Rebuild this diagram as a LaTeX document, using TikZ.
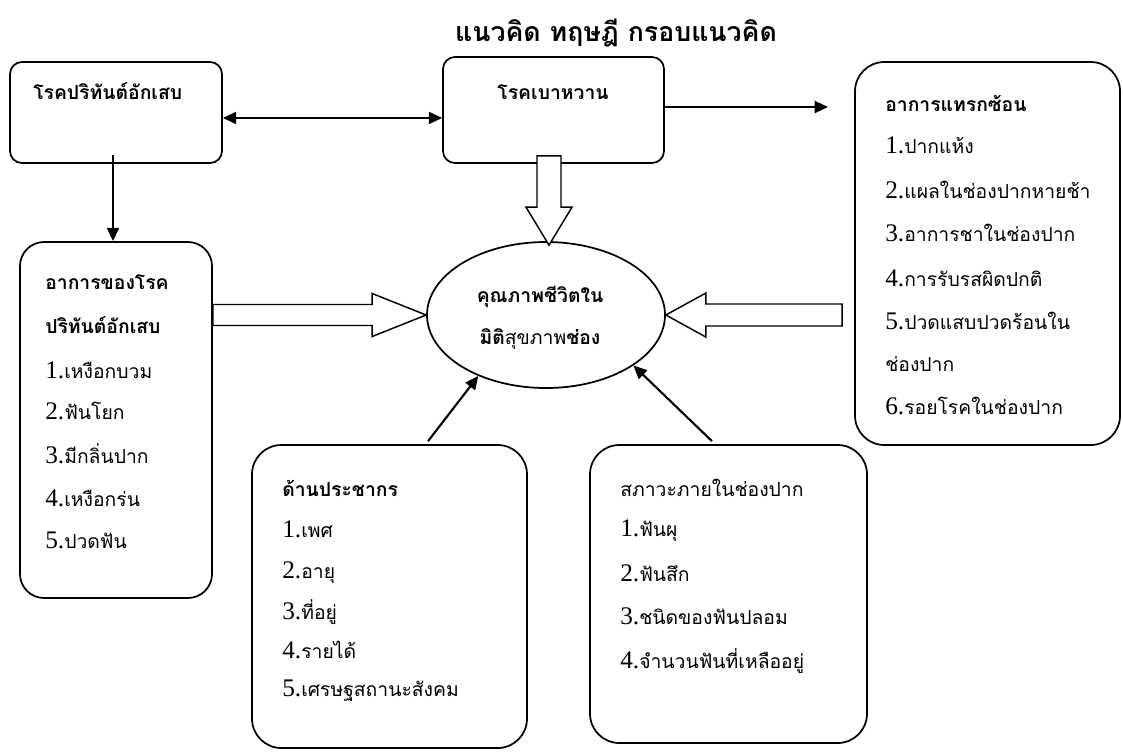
\documentclass[tikz,border=0pt]{standalone}
\usepackage{fontspec}
\setmainfont{Liberation Serif}
\newfontfamily\thaifont[Script=Thai]{Loma}
\usetikzlibrary{shapes.geometric,arrows.meta,calc}
\newcommand\dg[1]{{\fontsize{19}{22}\selectfont\rmfamily #1}}
\begin{document}
\begin{tikzpicture}[x=0.75pt,y=-0.75pt,
  box/.style={draw,line width=1.3pt,inner sep=0pt},
  txt/.style={anchor=base west,inner sep=0pt,font=\fontsize{14.5}{17}\selectfont\thaifont},
  hd/.style={anchor=base west,inner sep=0pt,font=\fontsize{14.5}{17}\selectfont\thaifont\bfseries},
  arr/.style={line width=1.6pt,-{Triangle[length=10pt,width=9pt]}},
  darr/.style={line width=1.6pt,{Triangle[length=10pt,width=9pt]}-{Triangle[length=10pt,width=9pt]}},
  hollow/.style={draw,line width=1.1pt,fill=white,line join=miter}]
\useasboundingbox (0,0) rectangle (1123,751);

% title
\node[anchor=base,inner sep=0pt,font=\fontsize{20}{24}\selectfont\thaifont\bfseries] (title) at (616,41) {แนวคิด ทฤษฎี กรอบแนวคิด};

% boxes
\node[box,rounded corners=9pt,minimum width=159pt,minimum height=75.75pt] (n1) at (116,112.5) {};
\node[box,rounded corners=9pt,minimum width=165.75pt,minimum height=79.5pt] (n2) at (553.5,110) {};
\node[box,rounded corners=22pt,minimum width=198.75pt,minimum height=287.25pt] (nR) at (987.5,253.5) {};
\node[box,rounded corners=18pt,minimum width=144pt,minimum height=267pt] (nL) at (116,420) {};
\node[box,rounded corners=22pt,minimum width=206.25pt,minimum height=227.25pt] (nB1) at (389.5,596.5) {};
\node[box,rounded corners=22pt,minimum width=207.75pt,minimum height=223.5pt] (nB2) at (728.5,594) {};
\node[box,ellipse,minimum width=178.5pt,minimum height=109.5pt] (E) at (546,315) {};

% solid connectors
\coordinate (dl) at ([yshift=-4.1pt]n1.east);
\draw[darr] (dl) -- (dl -| n2.west);
\coordinate (rS0) at ([yshift=2.25pt]n2.east);
\coordinate (rEnd) at (828,107);
\draw[arr] (rS0) -- (rEnd);
\coordinate (dS) at ([xshift=-2.25pt,yshift=6.75pt]n1.south);
\draw[arr] (dS) -- (dS |- nL.north);
\draw[arr] ([xshift=28.9pt,yshift=2.25pt]nB1.north) -- (E.-138.5);
\draw[arr] ([xshift=-12.4pt,yshift=2.25pt]nB2.north) -- (E.-30.6);

% hollow arrows
\coordinate (hS) at ($(n2.south)+(-4.5,-8)$);
\coordinate (hT) at ($(E.north)+(3,4)$);
\draw[hollow] ($(hS)+(-12,0)$) -- ($(hT)+(-12,-38)$) -- ($(hT)+(-23,-38)$) -- (hT)
  -- ($(hT)+(23,-38)$) -- ($(hT)+(12,-38)$) -- ($(hS)+(12,0)$) -- cycle;
\coordinate (lS) at (nL.east |- E.west);
\coordinate (lT) at (E.west);
\draw[hollow] ($(lS)+(0,-10.5)$) -- ($(lT)+(-54,-10.5)$) -- ($(lT)+(-54,-21.5)$) -- (lT)
  -- ($(lT)+(-54,21.5)$) -- ($(lT)+(-54,10.5)$) -- ($(lS)+(0,10.5)$) -- cycle;
\coordinate (rS) at ($(nR.west |- E.east)+(-12,0)$);
\coordinate (rT) at (E.east);
\draw[hollow] ($(rS)+(0,-11)$) -- ($(rT)+(40,-11)$) -- ($(rT)+(40,-22)$) -- (rT)
  -- ($(rT)+(40,22)$) -- ($(rT)+(40,11)$) -- ($(rS)+(0,11)$) -- cycle;

% texts
\node[hd] (t1) at (33,99) {โรคปริทันต์อักเสบ};
\node[hd,anchor=base] (t2) at (553,99) {โรคเบาหวาน};
\node[hd,anchor=base] (e1) at (540,302) {คุณภาพชีวิตใน};
\node[hd,anchor=base] (e2) at (540,344) {มิติ{\mdseries สุขภาพ}ช่อง};

\node[hd] (r0) at (885,111) {อาการแทรกซ้อน};
\node[txt] (r1) at (885,153) {\dg{1.}ปากแห้ง};
\node[txt] (r2) at (885,198) {\dg{2.}แผลในช่องปากหายช้า};
\node[txt] (r3) at (885,241) {\dg{3.}อาการชาในช่องปาก};
\node[txt] (r4) at (885,286) {\dg{4.}การรับรสผิดปกติ};
\node[txt] (r5) at (885,329) {\dg{5.}ปวดแสบปวดร้อนใน};
\node[txt] (r5b) at (885,371) {ช่องปาก};
\node[txt] (r6) at (885,414) {\dg{6.}รอยโรคในช่องปาก};

\node[hd] (l0) at (45,289) {อาการของโรค};
\node[hd] (l0b) at (45,333) {ปริทันต์อักเสบ};
\node[txt] (l1) at (45,378) {\dg{1.}เหงือกบวม};
\node[txt] (l2) at (45,419) {\dg{2.}ฟันโยก};
\node[txt] (l3) at (45,463) {\dg{3.}มีกลิ่นปาก};
\node[txt] (l4) at (45,506) {\dg{4.}เหงือกร่น};
\node[txt] (l5) at (45,548) {\dg{5.}ปวดฟัน};

\node[hd] (b0) at (282,496) {ด้านประชากร};
\node[txt] (b1) at (282,537) {\dg{1.}เพศ};
\node[txt] (b2) at (282,578) {\dg{2.}อายุ};
\node[txt] (b3) at (282,619) {\dg{3.}ที่อยู่};
\node[txt] (b4) at (282,658) {\dg{4.}รายได้};
\node[txt] (b5) at (282,696) {\dg{5.}เศรษฐสถานะสังคม};

\node[txt] (c0) at (620,496) {สภาวะภายในช่องปาก};
\node[txt] (c1) at (620,536) {\dg{1.}ฟันผุ};
\node[txt] (c2) at (620,581) {\dg{2.}ฟันสึก};
\node[txt] (c3) at (620,624) {\dg{3.}ชนิดของฟันปลอม};
\node[txt] (c4) at (620,668) {\dg{4.}จำนวนฟันที่เหลืออยู่};
\end{tikzpicture}
\end{document}
